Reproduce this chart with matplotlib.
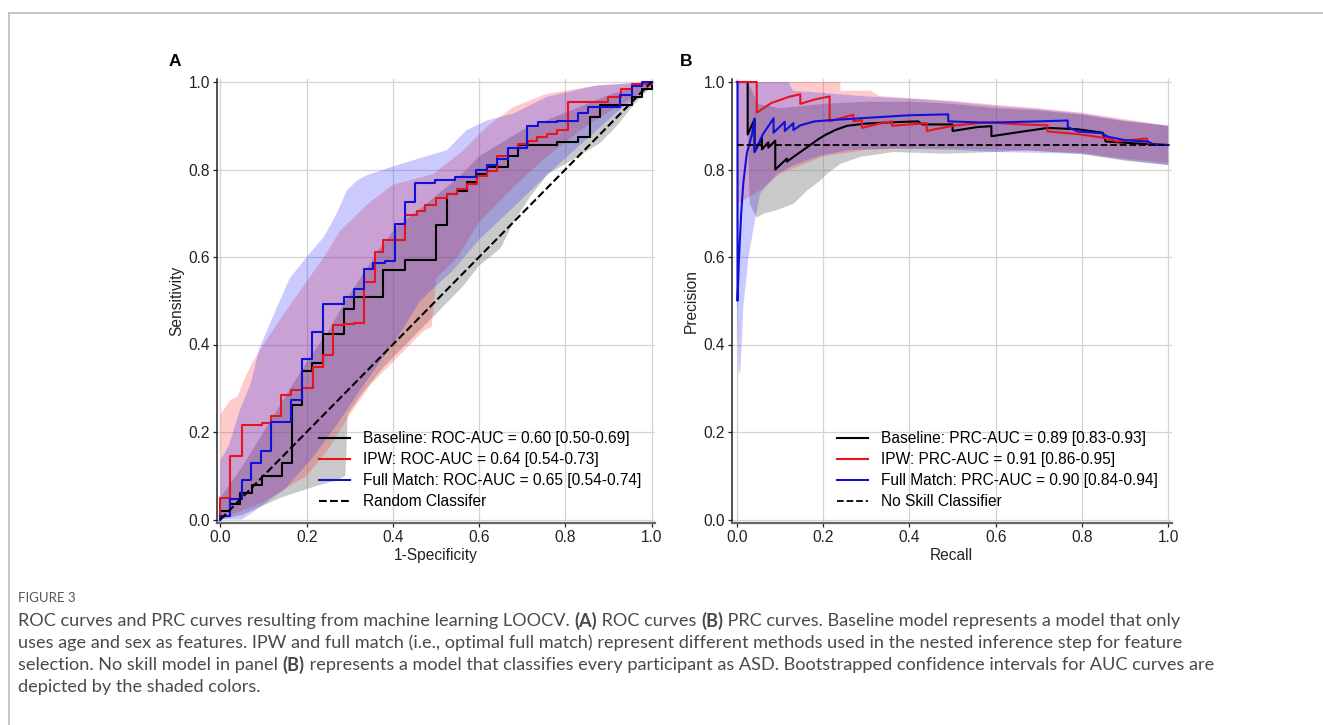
import numpy as np
import matplotlib
matplotlib.use('Agg')
import matplotlib.pyplot as plt
from matplotlib.lines import Line2D

plt.rcParams['font.family'] = ['Liberation Sans', 'DejaVu Sans']

W, H = 1323, 725

# ---- ROC curves (1-specificity, sensitivity) ----
roc_base_x = [0, 0, 0.023, 0.023, 0.046, 0.046, 0.073, 0.073, 0.096, 0.096, 0.143, 0.143, 0.166, 0.166,
              0.189, 0.189, 0.212, 0.212, 0.238, 0.238, 0.286, 0.286, 0.309, 0.309, 0.378, 0.378, 0.429,
              0.429, 0.5, 0.5, 0.525, 0.525, 0.548, 0.548, 0.571, 0.571, 0.595, 0.595, 0.618, 0.618, 0.668,
              0.668, 0.69, 0.69, 0.78, 0.78, 0.83, 0.83, 0.857, 0.857, 0.88, 0.88, 0.954, 0.954, 0.977,
              0.977, 1.0, 1.0]
roc_base_y = [0, 0.02, 0.02, 0.035, 0.035, 0.06, 0.06, 0.08, 0.08, 0.099, 0.099, 0.129, 0.129, 0.262,
              0.262, 0.339, 0.339, 0.358, 0.358, 0.425, 0.425, 0.482, 0.482, 0.509, 0.509, 0.57, 0.57,
              0.594, 0.594, 0.673, 0.673, 0.745, 0.745, 0.752, 0.752, 0.771, 0.771, 0.79, 0.79, 0.806,
              0.806, 0.832, 0.832, 0.855, 0.855, 0.864, 0.864, 0.875, 0.875, 0.92, 0.92, 0.947, 0.947,
              0.966, 0.966, 0.985, 0.985, 1.0]

roc_ipw_x = [0, 0, 0.022, 0.022, 0.049, 0.049, 0.097, 0.097, 0.117, 0.117, 0.141, 0.141, 0.164, 0.164,
             0.189, 0.189, 0.215, 0.215, 0.238, 0.238, 0.262, 0.262, 0.286, 0.286, 0.309, 0.309, 0.332,
             0.332, 0.359, 0.359, 0.378, 0.378, 0.428, 0.428, 0.455, 0.455, 0.475, 0.475, 0.5, 0.5,
             0.525, 0.525, 0.548, 0.548, 0.571, 0.571, 0.595, 0.595, 0.618, 0.618, 0.641, 0.641, 0.668,
             0.668, 0.691, 0.691, 0.714, 0.714, 0.734, 0.734, 0.757, 0.757, 0.78, 0.78, 0.807, 0.807,
             0.9, 0.9, 0.93, 0.93, 0.954, 0.954, 1.0, 1.0]
roc_ipw_y = [0, 0.049, 0.049, 0.146, 0.146, 0.216, 0.216, 0.22, 0.22, 0.237, 0.237, 0.285, 0.285, 0.296,
             0.296, 0.30, 0.30, 0.349, 0.349, 0.376, 0.376, 0.444, 0.444, 0.447, 0.447, 0.449, 0.449,
             0.543, 0.543, 0.611, 0.611, 0.64, 0.64, 0.697, 0.697, 0.705, 0.705, 0.72, 0.72, 0.735,
             0.735, 0.745, 0.745, 0.755, 0.755, 0.766, 0.766, 0.785, 0.785, 0.796, 0.796, 0.832, 0.832,
             0.85, 0.85, 0.859, 0.859, 0.866, 0.866, 0.874, 0.874, 0.882, 0.882, 0.89, 0.89, 0.954,
             0.954, 0.966, 0.966, 0.985, 0.985, 0.996, 0.996, 1.0]

roc_fm_x = [0, 0, 0.023, 0.023, 0.049, 0.049, 0.072, 0.072, 0.095, 0.095, 0.117, 0.117, 0.164, 0.164,
            0.189, 0.189, 0.212, 0.212, 0.238, 0.238, 0.286, 0.286, 0.309, 0.309, 0.332, 0.332, 0.355,
            0.355, 0.381, 0.381, 0.404, 0.404, 0.427, 0.427, 0.451, 0.451, 0.498, 0.498, 0.544, 0.544,
            0.593, 0.593, 0.618, 0.618, 0.641, 0.641, 0.668, 0.668, 0.71, 0.71, 0.737, 0.737, 0.78,
            0.78, 0.83, 0.83, 0.853, 0.853, 0.927, 0.927, 0.954, 0.954, 0.977, 0.977, 1.0]
roc_fm_y = [0, 0.008, 0.008, 0.046, 0.046, 0.091, 0.091, 0.13, 0.13, 0.156, 0.156, 0.222, 0.222, 0.273,
            0.273, 0.366, 0.366, 0.428, 0.428, 0.493, 0.493, 0.509, 0.509, 0.528, 0.528, 0.573, 0.573,
            0.586, 0.586, 0.59, 0.59, 0.676, 0.676, 0.726, 0.726, 0.769, 0.769, 0.775, 0.775, 0.784,
            0.784, 0.798, 0.798, 0.81, 0.81, 0.825, 0.825, 0.85, 0.85, 0.899, 0.899, 0.909, 0.909,
            0.912, 0.912, 0.93, 0.93, 0.944, 0.944, 0.97, 0.97, 0.99, 0.99, 1.0, 1.0]

# ROC confidence bands (upper / lower edges)
roc_base_up_x = [0, 0.05, 0.1, 0.15, 0.2, 0.25, 0.29, 0.33, 0.37, 0.41, 0.45, 0.5, 0.55, 0.6, 0.7, 0.8, 0.9, 1.0]
roc_base_up_y = [0.05, 0.12, 0.2, 0.28, 0.36, 0.43, 0.5, 0.56, 0.62, 0.67, 0.7, 0.74, 0.78, 0.83, 0.89, 0.93, 0.97, 1.0]
roc_base_lo_x = [0, 0.05, 0.14, 0.22, 0.27, 0.29, 0.295, 0.33, 0.38, 0.43, 0.48, 0.52, 0.56, 0.6, 0.65,
                 0.68, 0.72, 0.76, 0.83, 0.88, 0.92, 0.96, 1.0]
roc_base_lo_y = [0, 0.01, 0.05, 0.076, 0.09, 0.1, 0.24, 0.29, 0.35, 0.4, 0.45, 0.49, 0.53, 0.58, 0.62,
                 0.68, 0.74, 0.79, 0.83, 0.86, 0.9, 0.95, 0.99]

roc_ipw_up_x = [0, 0.023, 0.039, 0.06, 0.073, 0.1, 0.14, 0.19, 0.24, 0.278, 0.34, 0.4, 0.494, 0.564,
                0.62, 0.68, 0.757, 0.873, 1.0]
roc_ipw_up_y = [0.24, 0.273, 0.281, 0.33, 0.357, 0.4, 0.46, 0.53, 0.6, 0.66, 0.72, 0.765, 0.79, 0.844,
                0.9, 0.943, 0.973, 0.992, 1.0]
roc_ipw_lo_x = [0, 0.1, 0.2, 0.25, 0.3, 0.35, 0.4, 0.44, 0.47, 0.49, 0.5, 0.55, 0.6, 0.68, 0.757, 0.85, 0.93, 1.0]
roc_ipw_lo_y = [0, 0.04, 0.1, 0.16, 0.24, 0.31, 0.36, 0.4, 0.43, 0.44, 0.55, 0.6, 0.68, 0.76, 0.83, 0.9, 0.95, 0.99]

roc_fm_up_x = [0, 0.02, 0.045, 0.07, 0.09, 0.12, 0.16, 0.2, 0.24, 0.27, 0.293, 0.317, 0.34, 0.4, 0.46,
               0.525, 0.571, 0.618, 0.68, 0.757, 0.873, 1.0]
roc_fm_up_y = [0.135, 0.17, 0.25, 0.31, 0.39, 0.46, 0.55, 0.6, 0.646, 0.7, 0.752, 0.775, 0.787, 0.807,
               0.825, 0.844, 0.89, 0.912, 0.928, 0.966, 0.992, 1.0]
roc_fm_lo_x = [0, 0.05, 0.08, 0.15, 0.216, 0.278, 0.324, 0.37, 0.42, 0.463, 0.54, 0.6, 0.68, 0.76, 0.85, 0.93, 1.0]
roc_fm_lo_y = [0, 0.0, 0.02, 0.07, 0.144, 0.228, 0.296, 0.36, 0.43, 0.5, 0.57, 0.64, 0.714, 0.79, 0.87, 0.94, 0.99]

# ---- PR curves (recall, precision) ----
pr_base_x = [0, 0.025, 0.025, 0.041, 0.041, 0.058, 0.058, 0.073, 0.073, 0.089, 0.089, 0.116, 0.116, 0.14,
             0.166, 0.19, 0.205, 0.23, 0.256, 0.3, 0.36, 0.42, 0.43, 0.5, 0.5, 0.557, 0.59, 0.59, 0.664,
             0.72, 0.79, 0.848, 0.855, 0.92, 1.0]
pr_base_y = [1.0, 1.0, 0.88, 0.915, 0.84, 0.872, 0.846, 0.862, 0.85, 0.866, 0.8, 0.825, 0.818, 0.835,
             0.853, 0.87, 0.879, 0.891, 0.9, 0.905, 0.908, 0.91, 0.903, 0.903, 0.888, 0.897, 0.899, 0.876,
             0.887, 0.895, 0.892, 0.884, 0.864, 0.86, 0.856]

pr_ipw_x = [0, 0.046, 0.046, 0.08, 0.12, 0.147, 0.147, 0.18, 0.215, 0.215, 0.25, 0.27, 0.27, 0.29, 0.29,
            0.33, 0.36, 0.36, 0.44, 0.44, 0.5, 0.58, 0.66, 0.72, 0.72, 0.79, 0.86, 0.88, 0.9, 0.95,
            0.955, 1.0]
pr_ipw_y = [1.0, 1.0, 0.93, 0.952, 0.966, 0.972, 0.95, 0.96, 0.967, 0.91, 0.92, 0.925, 0.91, 0.913, 0.895,
            0.905, 0.91, 0.9, 0.906, 0.888, 0.9, 0.908, 0.903, 0.901, 0.887, 0.881, 0.871, 0.864, 0.866,
            0.871, 0.856, 0.856]

pr_fm_x = [0.0015, 0.0015, 0.005, 0.01, 0.015, 0.023, 0.035, 0.041, 0.041, 0.06, 0.085, 0.085, 0.111,
           0.111, 0.131, 0.131, 0.147, 0.18, 0.22, 0.3, 0.4, 0.49, 0.49, 0.58, 0.7, 0.767, 0.767, 0.79,
           0.845, 0.86, 0.9, 0.953, 0.968, 1.0]
pr_fm_y = [1.0, 0.5, 0.6, 0.7, 0.77, 0.837, 0.88, 0.917, 0.84, 0.88, 0.917, 0.884, 0.909, 0.888, 0.906,
           0.89, 0.901, 0.91, 0.913, 0.918, 0.924, 0.926, 0.91, 0.907, 0.91, 0.912, 0.897, 0.887, 0.883,
           0.875, 0.867, 0.864, 0.856, 0.856]

no_skill = 0.855

# PR confidence bands
pr_base_up_x = [0.025, 0.05, 0.1, 0.2, 0.3, 0.4, 0.5, 0.6, 0.7, 0.8, 0.9, 1.0]
pr_base_up_y = [1.0, 0.95, 0.94, 0.95, 0.955, 0.955, 0.95, 0.94, 0.935, 0.925, 0.91, 0.9]
pr_base_lo_x = [0.025, 0.03, 0.046, 0.062, 0.093, 0.132, 0.163, 0.194, 0.209, 0.24, 0.287, 0.364, 0.48,
                0.6, 0.674, 0.8, 0.9, 1.0]
pr_base_lo_y = [0.9, 0.72, 0.69, 0.699, 0.707, 0.722, 0.752, 0.775, 0.79, 0.813, 0.829, 0.84, 0.836,
                0.84, 0.844, 0.835, 0.82, 0.81]

pr_ipw_up_x = [0, 0.24, 0.24, 0.31, 0.33, 0.4, 0.5, 0.6, 0.7, 0.8, 0.9, 1.0]
pr_ipw_up_y = [1.0, 1.0, 0.98, 0.98, 0.968, 0.963, 0.957, 0.948, 0.94, 0.93, 0.915, 0.9]
pr_ipw_lo_x = [0, 0.05, 0.1, 0.2, 0.3, 0.4, 0.5, 0.6, 0.7, 0.8, 0.9, 1.0]
pr_ipw_lo_y = [0.72, 0.75, 0.79, 0.83, 0.845, 0.848, 0.848, 0.846, 0.842, 0.838, 0.825, 0.815]

pr_fm_up_x = [0, 0.12, 0.13, 0.2, 0.3, 0.4, 0.5, 0.6, 0.7, 0.8, 0.9, 1.0]
pr_fm_up_y = [1.0, 1.0, 0.98, 0.975, 0.967, 0.962, 0.955, 0.945, 0.938, 0.928, 0.912, 0.9]
pr_fm_lo_x = [0, 0.004, 0.008, 0.012, 0.015, 0.027, 0.043, 0.054, 0.093, 0.132, 0.194, 0.256, 0.364,
              0.5, 0.6, 0.7, 0.8, 0.9, 1.0]
pr_fm_lo_y = [0.5, 0.33, 0.34, 0.42, 0.486, 0.6, 0.69, 0.745, 0.79, 0.81, 0.832, 0.844, 0.848, 0.845,
              0.84, 0.838, 0.836, 0.822, 0.81]

roc_labels = ['Baseline: ROC-AUC = 0.60 [0.50-0.69]', 'IPW: ROC-AUC = 0.64 [0.54-0.73]',
              'Full Match: ROC-AUC = 0.65 [0.54-0.74]', 'Random Classifer']
pr_labels = ['Baseline: PRC-AUC = 0.89 [0.83-0.93]', 'IPW: PRC-AUC = 0.91 [0.86-0.95]',
             'Full Match: PRC-AUC = 0.90 [0.84-0.94]', 'No Skill Classifier']

colors = ['black', '#e8141c', '#1010d8']
band_colors = ['#808080', '#ff1010', '#1010ff']
band_alpha = [0.42, 0.22, 0.22]

fig = plt.figure(figsize=(W / 100, H / 100), dpi=100)

# frame around figure block
fig.add_artist(Line2D([9 / W, 1.0], [1 - 13 / H, 1 - 13 / H], color='#bbbbbb', lw=1.2))
fig.add_artist(Line2D([9 / W, 9 / W], [0, 1 - 13 / H], color='#bbbbbb', lw=1.2))

ax1 = fig.add_axes([217 / W, 1 - 523 / H, 438 / W, 444.5 / H])
ax2 = fig.add_axes([731.7 / W, 1 - 523 / H, 440 / W, 444.5 / H])


def fill_band(ax, ux, uy, lx, ly, c, a):
    ax.fill(np.r_[ux, lx[::-1]], np.r_[uy, ly[::-1]], color=c, alpha=a, lw=0)


roc_bands = [(roc_base_up_x, roc_base_up_y, roc_base_lo_x, roc_base_lo_y),
             (roc_ipw_up_x, roc_ipw_up_y, roc_ipw_lo_x, roc_ipw_lo_y),
             (roc_fm_up_x, roc_fm_up_y, roc_fm_lo_x, roc_fm_lo_y)]
pr_bands = [(pr_base_up_x, pr_base_up_y, pr_base_lo_x, pr_base_lo_y),
            (pr_ipw_up_x, pr_ipw_up_y, pr_ipw_lo_x, pr_ipw_lo_y),
            (pr_fm_up_x, pr_fm_up_y, pr_fm_lo_x, pr_fm_lo_y)]
for i in range(3):
    fill_band(ax1, *roc_bands[i], band_colors[i], band_alpha[i])
    fill_band(ax2, *pr_bands[i], band_colors[i], band_alpha[i])

roc_lines = [(roc_base_x, roc_base_y), (roc_ipw_x, roc_ipw_y), (roc_fm_x, roc_fm_y)]
pr_lines = [(pr_base_x, pr_base_y), (pr_ipw_x, pr_ipw_y), (pr_fm_x, pr_fm_y)]
for i in range(3):
    ax1.plot(*roc_lines[i], color=colors[i], lw=1.5, label=roc_labels[i])
    ax2.plot(*pr_lines[i], color=colors[i], lw=1.5, label=pr_labels[i])

ax1.plot([0, 1], [0, 1], color='black', ls='--', lw=1.5, label=roc_labels[3])
ax2.plot([0, 1], [no_skill, no_skill], color='black', ls='--', lw=1.3, label=pr_labels[3])

fs = 11.2
for ax, lab, xl, lo in [(ax1, 'Sensitivity', '1-Specificity', -0.008), (ax2, 'Precision', 'Recall', -0.012)]:
    ax.set_xlim(lo, 1.008)
    ax.set_ylim(-0.008, 1.008)
    ax.set_xticks(np.arange(0, 1.01, 0.2))
    ax.set_yticks(np.arange(0, 1.01, 0.2))
    ax.grid(color='#d4d4d4', lw=0.9)
    ax.set_axisbelow(True)
    for s in ['top', 'right']:
        ax.spines[s].set_visible(False)
    ax.spines['left'].set_color('#222222')
    ax.spines['bottom'].set_color('#666666')
    ax.spines['left'].set_linewidth(1.1)
    ax.spines['bottom'].set_linewidth(1.6)
    ax.tick_params(labelsize=fs, colors='#222222', length=3, width=0.9, pad=2)
    ax.set_ylabel(lab, fontsize=fs, color='#222222', labelpad=3)
    ax.set_xlabel(xl, fontsize=fs, color='#222222', labelpad=2)
    ax.legend(loc='lower right', frameon=False, fontsize=fs, handlelength=2.0,
              handletextpad=0.8, labelspacing=0.38, borderaxespad=0.5)

fig.text(175 / W, 1 - 62 / H, 'A', fontsize=12.5, fontweight='bold', ha='center', va='center')
fig.text(686 / W, 1 - 62 / H, 'B', fontsize=12.5, fontweight='bold', ha='center', va='center')

# caption
cap_font = ['Lato', 'DejaVu Sans']
fig.text(18 / W, 1 - 598 / H, 'FIGURE 3', fontsize=9.5, color='#555555', family=cap_font,
         va='center')

cap_lines = [
    [('ROC curves and PRC curves resulting from machine learning LOOCV. ', False), ('(A)', True),
     (' ROC curves ', False), ('(B)', True),
     (' PRC curves. Baseline model represents a model that only', False)],
    [('uses age and sex as features. IPW and full match (i.e., optimal full match) represent different '
      'methods used in the nested inference step for feature', False)],
    [('selection. No skill model in panel ', False), ('(B)', True),
     (' represents a model that classifies every participant as ASD. Bootstrapped confidence intervals '
      'for AUC curves are', False)],
    [('depicted by the shaded colors.', False)],
]
cap_y = [621, 643, 665, 687]

renderer = fig.canvas.get_renderer()
for pieces, yy in zip(cap_lines, cap_y):
    x = 18
    for txt, bold in pieces:
        t = fig.text(x / W, 1 - yy / H, txt, fontsize=13.1, color='#4a4a4a', family=cap_font,
                     fontweight='bold' if bold else 'normal', va='center')
        x += t.get_window_extent(renderer).width

fig.savefig('out.png', dpi=100)
